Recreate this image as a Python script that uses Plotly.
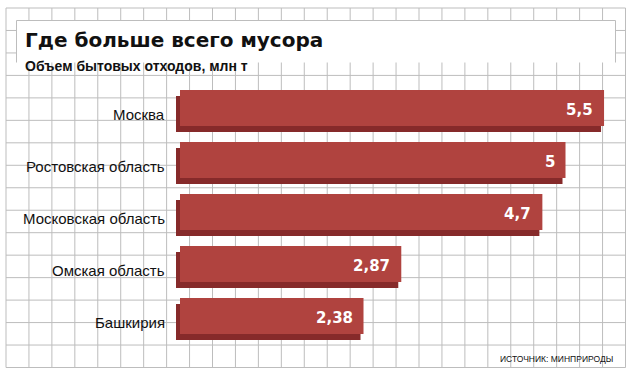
import plotly.graph_objects as go

# ---- data ----
categories = ["Москва", "Ростовская область", "Московская область", "Омская область", "Башкирия"]
values = [5.5, 5.0, 4.7, 2.87, 2.38]
value_labels = ["5,5", "5", "4,7", "2,87", "2,38"]
title_text = "Где больше всего мусора"
subtitle_text = "Объем бытовых отходов, млн т"
source_text = "ИСТОЧНИК: МИНПРИРОДЫ"

# ---- geometry (pixels) ----
W, H = 632, 374
X0 = 180.0           # pixel of value 0
PX_PER_UNIT = 77.1   # pixels per value unit
Y_FIRST = 108.0      # pixel centre of first bar
Y_STEP = 52.0        # pixels between bars
BAR_PX = 36.0

x_range = [-X0 / PX_PER_UNIT, (W - X0) / PX_PER_UNIT]
y_range = [(len(categories) - 1) + (H - (Y_FIRST + (len(categories) - 1) * Y_STEP)) / Y_STEP,
           -Y_FIRST / Y_STEP]
bw = BAR_PX / Y_STEP

FRONT = "#b0433f"
SIDE = "#862a2a"
GRID = "#bdbdbd"

fig = go.Figure()

# extruded side (shadow) of the bars
fig.add_trace(go.Bar(
    orientation="h", y=categories,
    x=[v + 1 / PX_PER_UNIT for v in values],
    base=-4 / PX_PER_UNIT,
    width=bw, offset=-bw / 2 + 6 / Y_STEP,
    marker=dict(color=SIDE, line=dict(width=0)),
    hoverinfo="skip", showlegend=False,
))
# front face
fig.add_trace(go.Bar(
    orientation="h", y=categories, x=values,
    width=bw, offset=-bw / 2,
    marker=dict(color=FRONT, line=dict(width=0)),
    showlegend=False,
))

shapes = []
def px(x):
    return x / W
def py(y):
    return 1 - y / H

# grid
gx0, gx1, nx = 6.0, 625.5, 27
gy0, gy1, ny = 8.0, 367.5, 16
for k in range(nx + 1):
    x = gx0 + (gx1 - gx0) * k / nx
    shapes.append(dict(type="line", xref="paper", yref="paper", x0=px(x), x1=px(x),
                       y0=py(gy0), y1=py(gy1), line=dict(color=GRID, width=1), layer="below"))
for k in range(ny + 1):
    y = gy0 + (gy1 - gy0) * k / ny
    shapes.append(dict(type="line", xref="paper", yref="paper", x0=px(gx0), x1=px(gx1),
                       y0=py(y), y1=py(y), line=dict(color=GRID, width=1), layer="below"))
# white title panel
bx0, bx1, by0, by1 = 16.5, 615.5, 20.5, 62.5
shapes.append(dict(type="rect", xref="paper", yref="paper", x0=px(bx0), x1=px(bx1),
                   y0=py(by1), y1=py(by0), fillcolor="white", line=dict(width=0), layer="below"))
for (xa, ya, xb, yb) in [(bx0, by0, bx1, by0), (bx0, by0, bx0, by1), (bx1, by0, bx1, by1)]:
    shapes.append(dict(type="line", xref="paper", yref="paper", x0=px(xa), x1=px(xb),
                       y0=py(ya), y1=py(yb), line=dict(color=GRID, width=1), layer="below"))

annotations = []
for c, v, lab in zip(categories, values, value_labels):
    annotations.append(dict(x=0, y=c, xref="x", yref="y", text=c, showarrow=False,
                            xanchor="right", yanchor="middle", xshift=-13, yshift=-6,
                            font=dict(family="Liberation Sans, Arial", size=15, color="#111")))
    annotations.append(dict(x=v, y=c, xref="x", yref="y", text=lab, showarrow=False,
                            xanchor="right", yanchor="middle", xshift=-9, yshift=-2,
                            font=dict(family="DejaVu Sans", size=15, color="white", weight="bold")))

annotations.append(dict(x=px(23), y=py(40), xref="paper", yref="paper", text=title_text,
                        showarrow=False, xanchor="left", yanchor="middle",
                        font=dict(family="DejaVu Sans", size=20, color="#111", weight="bold")))
annotations.append(dict(x=px(23), y=py(66), xref="paper", yref="paper", text=subtitle_text,
                        showarrow=False, xanchor="left", yanchor="middle",
                        font=dict(family="Liberation Sans", size=14, color="#111", weight="bold")))
annotations.append(dict(x=px(615), y=py(359), xref="paper", yref="paper", text=source_text,
                        showarrow=False, xanchor="right", yanchor="middle",
                        font=dict(family="Liberation Sans", size=8.5, color="#111")))

fig.update_layout(
    width=W, height=H,
    margin=dict(l=0, r=0, t=0, b=0, pad=0),
    paper_bgcolor="white", plot_bgcolor="white",
    barmode="overlay",
    xaxis=dict(range=x_range, visible=False, fixedrange=True),
    yaxis=dict(range=y_range, visible=False, type="category",
               categoryorder="array", categoryarray=categories, fixedrange=True),
    shapes=shapes, annotations=annotations,
    showlegend=False,
)

fig.write_html("out.html", config={"displayModeBar": False},
               post_script="document.body.style.margin='0';document.body.style.overflow='hidden';")
